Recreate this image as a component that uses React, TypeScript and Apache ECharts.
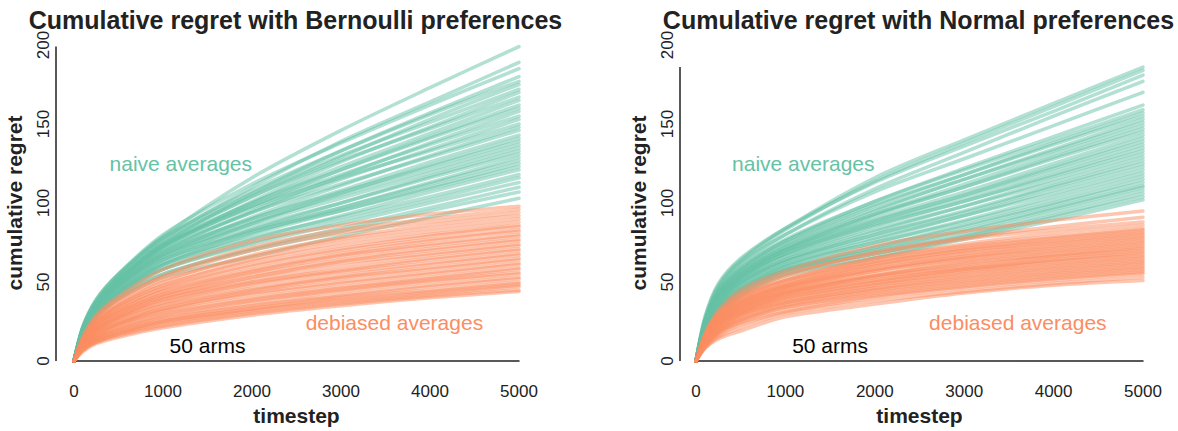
import React, { useEffect, useRef } from "react";
import * as echarts from "echarts";

const TIMESTEPS = [0, 100, 250, 500, 1000, 2000, 3000, 4000, 5000];
const X_TICKS = [0, 1000, 2000, 3000, 4000, 5000];
const Y_TICKS = [0, 50, 100, 150, 200];

const BERNOULLI_NAIVE = [
  [0, 21, 39, 55, 79, 116, 146, 173, 199],
  [0, 20, 37, 53, 77, 110, 139, 164, 189],
  [0, 22, 38, 55, 80, 112, 138, 162, 185],
  [0, 19, 36, 51, 74, 106, 133, 157, 180],
  [0, 21, 38, 54, 78, 108, 133, 156, 177],
  [0, 20, 36, 51, 75, 104, 129, 153, 175],
  [0, 22, 39, 55, 78, 106, 130, 151, 172],
  [0, 19, 35, 50, 72, 101, 126, 148, 170],
  [0, 21, 37, 53, 76, 104, 127, 147, 167],
  [0, 20, 36, 51, 73, 100, 123, 144, 165],
  [0, 19, 35, 50, 72, 98, 121, 142, 162],
  [0, 21, 37, 52, 74, 100, 121, 141, 160],
  [0, 18, 34, 48, 69, 95, 117, 138, 158],
  [0, 20, 36, 51, 73, 98, 118, 137, 155],
  [0, 19, 34, 49, 70, 94, 115, 134, 153],
  [0, 21, 37, 52, 73, 97, 116, 133, 150],
  [0, 18, 33, 47, 67, 91, 111, 130, 148],
  [0, 20, 35, 50, 71, 94, 112, 129, 146],
  [0, 19, 34, 48, 68, 90, 108, 126, 143],
  [0, 17, 32, 45, 64, 87, 106, 124, 141],
  [0, 20, 35, 49, 69, 90, 107, 123, 139],
  [0, 18, 33, 47, 66, 88, 105, 121, 137],
  [0, 19, 34, 48, 67, 87, 103, 119, 135],
  [0, 17, 31, 44, 62, 83, 100, 117, 133],
  [0, 19, 33, 47, 66, 85, 100, 116, 131],
  [0, 16, 30, 43, 61, 81, 97, 113, 129],
  [0, 18, 33, 46, 64, 83, 97, 112, 127],
  [0, 17, 31, 44, 61, 80, 95, 110, 125],
  [0, 19, 33, 46, 64, 82, 95, 109, 123],
  [0, 16, 29, 42, 59, 77, 92, 107, 121],
  [0, 18, 32, 44, 61, 78, 91, 104, 118],
  [0, 16, 30, 42, 58, 75, 89, 102, 116],
  [0, 17, 31, 43, 58, 74, 87, 100, 113],
  [0, 15, 28, 40, 55, 71, 84, 97, 110],
  [0, 16, 29, 41, 55, 70, 82, 95, 107],
  [0, 14, 27, 39, 53, 66, 79, 91, 103],
];

const BERNOULLI_DEBIASED = [
  [0, 15, 29, 41, 58, 76, 86, 93, 98],
  [0, 14, 27, 39, 54, 72, 83, 90, 96],
  [0, 15, 28, 39, 53, 70, 81, 88, 94],
  [0, 13, 25, 36, 50, 67, 78, 86, 92],
  [0, 14, 26, 37, 51, 66, 77, 84, 90],
  [0, 13, 24, 35, 48, 64, 75, 82, 88],
  [0, 14, 25, 35, 48, 63, 73, 80, 86],
  [0, 12, 23, 33, 46, 61, 71, 79, 85],
  [0, 13, 24, 34, 46, 60, 70, 77, 83],
  [0, 12, 22, 32, 44, 58, 68, 76, 82],
  [0, 13, 23, 32, 44, 57, 67, 74, 80],
  [0, 11, 21, 30, 42, 56, 66, 73, 79],
  [0, 12, 22, 31, 42, 55, 64, 71, 77],
  [0, 11, 20, 29, 40, 53, 63, 70, 76],
  [0, 12, 21, 30, 41, 53, 62, 68, 74],
  [0, 10, 19, 28, 39, 51, 60, 67, 73],
  [0, 11, 20, 28, 39, 50, 58, 65, 71],
  [0, 10, 19, 27, 37, 49, 57, 64, 70],
  [0, 11, 19, 27, 37, 48, 56, 62, 68],
  [0, 10, 18, 25, 35, 46, 54, 61, 67],
  [0, 10, 18, 26, 35, 45, 53, 59, 65],
  [0, 9, 17, 24, 33, 44, 52, 58, 64],
  [0, 10, 17, 24, 33, 43, 50, 56, 62],
  [0, 9, 16, 23, 32, 42, 49, 55, 61],
  [0, 9, 16, 23, 31, 40, 47, 53, 59],
  [0, 8, 15, 22, 30, 39, 46, 52, 58],
  [0, 9, 15, 21, 29, 38, 45, 51, 56],
  [0, 8, 14, 20, 28, 37, 44, 50, 55],
  [0, 8, 14, 20, 27, 35, 42, 48, 53],
  [0, 8, 14, 19, 26, 35, 41, 47, 52],
  [0, 7, 13, 18, 25, 33, 40, 45, 50],
  [0, 8, 13, 18, 25, 33, 39, 44, 49],
  [0, 7, 12, 17, 24, 32, 38, 43, 48],
  [0, 7, 12, 17, 23, 31, 37, 42, 47],
  [0, 7, 12, 16, 22, 30, 36, 41, 45],
  [0, 6, 11, 15, 21, 29, 35, 40, 44],
];

const NORMAL_NAIVE = [
  [0, 27, 48, 64, 84, 116, 140, 163, 186],
  [0, 26, 47, 63, 83, 114, 138, 161, 184],
  [0, 28, 49, 65, 84, 113, 136, 158, 181],
  [0, 25, 45, 61, 80, 109, 132, 155, 177],
  [0, 26, 46, 62, 80, 107, 128, 149, 170],
  [0, 24, 43, 58, 76, 101, 122, 142, 162],
  [0, 25, 44, 59, 77, 101, 121, 140, 159],
  [0, 23, 42, 57, 74, 98, 118, 138, 157],
  [0, 25, 44, 59, 76, 99, 118, 137, 155],
  [0, 22, 41, 55, 72, 95, 115, 134, 153],
  [0, 24, 43, 57, 74, 96, 115, 133, 151],
  [0, 23, 41, 55, 71, 93, 112, 131, 149],
  [0, 21, 39, 53, 70, 92, 110, 129, 147],
  [0, 24, 42, 56, 72, 93, 110, 128, 145],
  [0, 22, 40, 54, 70, 90, 107, 125, 143],
  [0, 20, 38, 52, 68, 88, 105, 123, 141],
  [0, 23, 41, 55, 70, 89, 105, 122, 139],
  [0, 21, 39, 53, 68, 87, 103, 120, 137],
  [0, 20, 37, 51, 66, 85, 101, 118, 135],
  [0, 22, 40, 53, 68, 86, 101, 117, 133],
  [0, 19, 36, 50, 64, 82, 98, 115, 131],
  [0, 21, 38, 52, 66, 83, 98, 113, 129],
  [0, 19, 35, 49, 63, 80, 95, 111, 127],
  [0, 20, 37, 50, 64, 80, 94, 110, 125],
  [0, 18, 34, 47, 61, 77, 92, 108, 123],
  [0, 20, 36, 49, 63, 78, 92, 106, 121],
  [0, 18, 33, 46, 60, 75, 89, 104, 119],
  [0, 19, 35, 48, 61, 75, 88, 102, 117],
  [0, 17, 32, 45, 58, 72, 86, 100, 115],
  [0, 18, 33, 46, 59, 72, 85, 99, 113],
  [0, 17, 31, 44, 57, 70, 83, 97, 111],
  [0, 18, 32, 45, 58, 70, 82, 96, 110],
  [0, 16, 30, 43, 56, 68, 80, 94, 108],
  [0, 17, 31, 44, 57, 68, 79, 92, 106],
  [0, 15, 29, 42, 55, 66, 78, 91, 104],
  [0, 16, 28, 41, 54, 65, 77, 89, 102],
];

const NORMAL_DEBIASED = [
  [0, 17, 32, 45, 57, 73, 82, 89, 95],
  [0, 16, 30, 42, 54, 69, 78, 85, 91],
  [0, 17, 31, 43, 55, 68, 77, 83, 88],
  [0, 15, 28, 40, 51, 65, 74, 81, 86],
  [0, 16, 29, 41, 52, 65, 73, 79, 84],
  [0, 15, 27, 38, 49, 63, 72, 78, 83],
  [0, 16, 29, 40, 51, 63, 71, 77, 82],
  [0, 14, 26, 37, 48, 61, 70, 76, 81],
  [0, 15, 28, 39, 50, 62, 70, 75, 80],
  [0, 14, 26, 36, 47, 60, 68, 74, 79],
  [0, 15, 27, 38, 48, 60, 68, 73, 78],
  [0, 13, 25, 35, 46, 58, 66, 72, 77],
  [0, 14, 26, 37, 47, 58, 66, 71, 76],
  [0, 13, 24, 34, 45, 57, 65, 70, 75],
  [0, 14, 26, 36, 46, 57, 64, 69, 74],
  [0, 13, 24, 34, 44, 55, 63, 68, 73],
  [0, 12, 23, 33, 43, 54, 62, 67, 72],
  [0, 13, 25, 35, 44, 54, 61, 66, 71],
  [0, 12, 23, 32, 42, 53, 60, 66, 70],
  [0, 13, 24, 33, 43, 53, 59, 64, 69],
  [0, 11, 22, 31, 41, 51, 58, 64, 68],
  [0, 12, 23, 32, 42, 51, 58, 63, 67],
  [0, 11, 21, 30, 40, 50, 57, 62, 66],
  [0, 12, 22, 31, 40, 49, 56, 61, 65],
  [0, 11, 20, 29, 38, 48, 55, 60, 64],
  [0, 11, 21, 30, 39, 48, 54, 59, 63],
  [0, 10, 19, 28, 37, 46, 53, 58, 62],
  [0, 11, 20, 29, 37, 46, 52, 57, 61],
  [0, 10, 19, 27, 36, 45, 51, 56, 60],
  [0, 10, 18, 26, 35, 44, 50, 55, 59],
  [0, 9, 18, 26, 34, 43, 49, 54, 58],
  [0, 10, 18, 25, 34, 42, 48, 53, 57],
  [0, 9, 17, 24, 32, 41, 47, 52, 56],
  [0, 9, 16, 23, 31, 40, 46, 51, 55],
  [0, 8, 15, 21, 30, 38, 44, 49, 53],
  [0, 8, 14, 19, 28, 36, 43, 48, 51],
];

const TITLES = [
  "Cumulative regret with Bernoulli preferences",
  "Cumulative regret with Normal preferences",
];

// annotation anchors in data units [timestep, regret]
const NAIVE_LABEL_AT = [1200, 125];
const DEBIASED_LABEL_AT = [3600, 24.5];
const ARMS_LABEL_AT = [1500, 9.5];

const TEAL = "#66c2a5";
const ORANGE = "#fc8d62";
const INK = "#222222";
const FONT = "'Liberation Sans', Arial, Helvetica, sans-serif";

const GRIDS = [
  { left: 74, top: 45, width: 445, height: 320 },
  { left: 696, top: 45, width: 447, height: 320 },
];
const Y_OFFSETS = [18, 16];
const X_OFFSET = 18;
const TITLE_SHIFT = -6;

export default function App() {
  const ref = useRef<HTMLDivElement>(null);

  useEffect(() => {
    document.body.style.margin = "0";
    if (!ref.current) return;
    const chart = echarts.init(ref.current, null, { renderer: "svg" });

    const panels = [
      { naive: BERNOULLI_NAIVE, debiased: BERNOULLI_DEBIASED },
      { naive: NORMAL_NAIVE, debiased: NORMAL_DEBIASED },
    ];

    const series: any[] = [];
    panels.forEach((p, i) => {
      const mk = (rows: number[][], color: string) =>
        rows.forEach((row) =>
          series.push({
            type: "line",
            xAxisIndex: i,
            yAxisIndex: i,
            data: row.map((v, j) => [TIMESTEPS[j], v]),
            symbol: "none",
            showSymbol: false,
            smooth: 0.3,
            silent: true,
            lineStyle: { color, width: 3.5, opacity: 0.5, cap: "round", join: "round" },
          })
        );
      mk(p.naive, TEAL);
      mk(p.debiased, ORANGE);
      const lab = (at: number[], text: string, color: string) =>
        series.push({
          type: "scatter",
          xAxisIndex: i,
          yAxisIndex: i,
          data: [at],
          symbolSize: 1,
          silent: true,
          z: 10,
          itemStyle: { color: "rgba(0,0,0,0)" },
          label: {
            show: true,
            position: "inside",
            formatter: text,
            color,
            opacity: 1,
            textBorderWidth: 0,
            textBorderColor: "transparent",
            fontSize: 21,
            fontFamily: FONT,
          },
        });
      lab(NAIVE_LABEL_AT, "naive averages", TEAL);
      lab(DEBIASED_LABEL_AT, "debiased averages", ORANGE);
      lab(ARMS_LABEL_AT, "50 arms", "#000000");
    });

    const option: any = {
      animation: false,
      backgroundColor: "#ffffff",
      title: TITLES.map((t, i) => ({
        text: t,
        left: GRIDS[i].left + GRIDS[i].width / 2 + TITLE_SHIFT,
        top: 2,
        textAlign: "center",
        textStyle: { fontSize: 25, fontWeight: "bold", color: INK, fontFamily: FONT },
      })),
      grid: GRIDS.map((g) => ({ ...g, containLabel: false })),
      xAxis: GRIDS.map((_, i) => ({
        type: "value",
        gridIndex: i,
        min: X_TICKS[0],
        max: X_TICKS[X_TICKS.length - 1],
        interval: 1000,
        offset: X_OFFSET,
        name: "timestep",
        nameLocation: "middle",
        nameGap: 26,
        nameTextStyle: { fontSize: 21, fontWeight: "bold", color: INK, fontFamily: FONT },
        axisLine: { show: true, lineStyle: { color: INK, width: 1.5 } },
        axisTick: { show: false },
        splitLine: { show: false },
        axisLabel: {
          show: true,
          margin: 4,
          fontSize: 17,
          color: INK,
          fontFamily: FONT,
          showMinLabel: true,
          showMaxLabel: true,
          formatter: (v: number) => String(v),
        },
      })),
      yAxis: GRIDS.map((_, i) => ({
        type: "value",
        gridIndex: i,
        min: Y_TICKS[0],
        max: Y_TICKS[Y_TICKS.length - 1],
        interval: 50,
        offset: Y_OFFSETS[i],
        name: "cumulative regret",
        nameLocation: "middle",
        nameGap: 31,
        nameTextStyle: { fontSize: 21, fontWeight: "bold", color: INK, fontFamily: FONT },
        axisLine: { show: false },
        axisTick: { show: false },
        splitLine: { show: false },
        axisLabel: {
          show: true,
          rotate: 90,
          margin: 4,
          fontSize: 17,
          color: INK,
          fontFamily: FONT,
          showMinLabel: true,
          showMaxLabel: true,
          formatter: (v: number) => String(v),
        },
      })),
      series,
    };

    chart.setOption(option);

    // range-frame y axis lines: from 0 to the largest value drawn in each panel
    const graphic: any[] = [];
    panels.forEach((p, i) => {
      const maxVal = Math.max(...p.naive.flat(), ...p.debiased.flat());
      const p0 = chart.convertToPixel({ xAxisIndex: i, yAxisIndex: i }, [0, 0]) as number[];
      const p1 = chart.convertToPixel({ xAxisIndex: i, yAxisIndex: i }, [0, maxVal]) as number[];
      const x = p0[0] - Y_OFFSETS[i];
      graphic.push({
        type: "line",
        shape: { x1: x, y1: p0[1], x2: x, y2: p1[1] },
        style: { stroke: INK, lineWidth: 1.5 },
        silent: true,
      });
    });
    chart.setOption({ graphic });

    return () => chart.dispose();
  }, []);

  return <div ref={ref} style={{ width: 1178, height: 431 }} />;
}
